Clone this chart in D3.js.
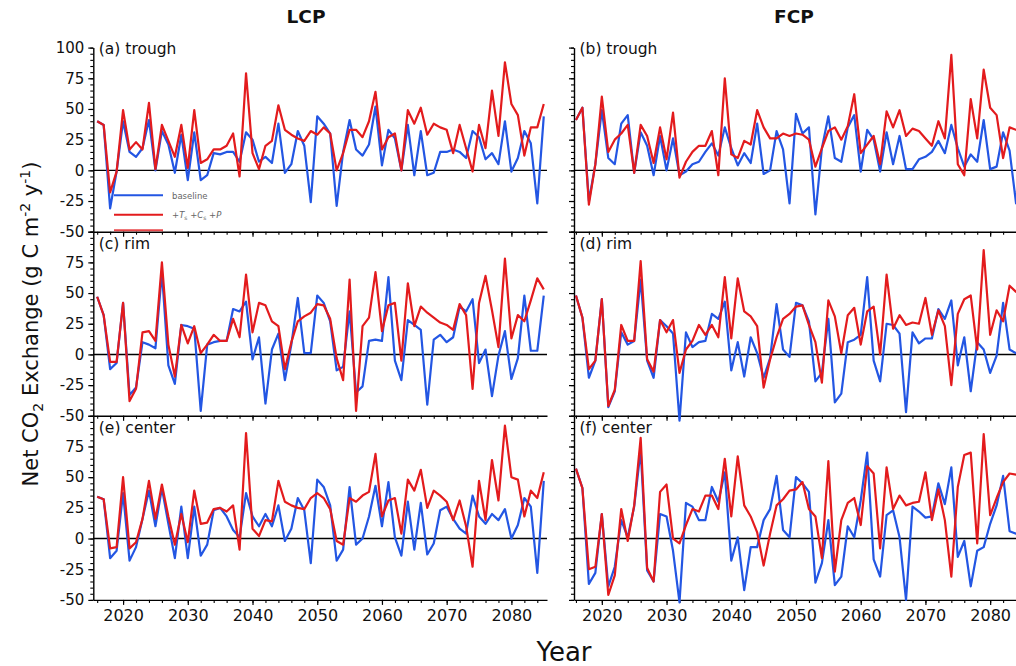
<!DOCTYPE html>
<html>
<head>
<meta charset="utf-8">
<script src="https://cdn.jsdelivr.net/npm/d3@7"></script>
<style>
  html, body { margin: 0; padding: 0; background: #fff; }
  svg { display: block; font-family: "DejaVu Sans", Verdana, sans-serif; }
</style>
</head>
<body>
<svg id="chart" width="1016" height="666"></svg>
<script>
// Years of simulated net CO2 exchange
const years = d3.range(2016, 2086);

// Column titles and panel captions
const columnTitles = ["LCP", "FCP"];
const panelLabels = [["(a) trough", "(b) trough"], ["(c) rim", "(d) rim"], ["(e) center", "(f) center"]];

// Axis ticks
const yMajorTicks = [-50, -25, 0, 25, 50, 75, 100];
const xMajorTicks = [2020, 2030, 2040, 2050, 2060, 2070, 2080];

// Net CO2 exchange, g C m-2 y-1 : baseline and +Ts +Cs +P runs
const troughLcpBase = [40, 37, -31, -1, 40, 15, 11, 18, 41, 0, 32, 21, -2, 29, -8, 31, -8, -4, 14, 13, 15, 15, 7, 31, 25, 7, 11, 6, 38, -2, 5, 32, 20, -26, 44, 38, 30, -29, 15, 41, 17, 12, 21, 52, 4, 33, 26, 0, 37, -4, 32, -4, -2, 15, 15, 17, 15, 10, 32, 27, 9, 14, 5, 40, -1, 10, 32, 22, -27, 44];
const troughLcpWarm = [40, 37, -18, -1, 49, 17, 23, 17, 55, 1, 37, 24, 11, 37, 2, 49, 6, 9, 17, 17, 20, 30, -5, 79, 14, 1, 20, 24, 53, 33, 29, 26, 24, 32, 29, 35, 30, 0, 14, 33, 33, 27, 40, 64, 17, 27, 30, 0, 49, 38, 51, 29, 38, 35, 33, 14, 37, 18, -1, 37, 18, 65, 28, 88, 54, 45, 12, 35, 35, 54];
const troughFcpBase = [41, 51, -25, 5, 49, 10, 5, 38, 45, -2, 31, 20, -4, 28, 0, 26, -4, -1, 5, 7, 15, 22, 12, 35, 18, 4, 14, 6, 38, -3, 0, 32, 17, -27, 46, 30, 35, -36, 18, 44, 10, 7, 35, 45, -1, 33, 25, -1, 31, 5, 28, 1, 1, 9, 11, 15, 24, 14, 37, 18, 3, 13, 7, 41, 1, 3, 31, 16, -27, 40];
const troughFcpWarm = [41, 51, -28, 5, 60, 15, 25, 30, 37, -2, 37, 28, 6, 35, 9, 47, -6, 7, 15, 20, 20, 32, -4, 75, 13, 10, 24, 21, 49, 35, 26, 26, 30, 28, 30, 29, 25, 3, 18, 32, 35, 25, 36, 62, 14, 21, 28, 5, 48, 35, 49, 28, 34, 32, 26, 20, 40, 26, 94, 5, -4, 58, 26, 82, 51, 45, 10, 35, 33, 32];
const rimLcpBase = [47, 32, -12, -7, 42, -33, -27, 10, 8, 5, 67, -9, -24, 24, 23, 21, -46, 8, 10, 11, 11, 37, 35, 43, -4, 14, -40, 4, 17, -21, 8, 46, 1, 1, 48, 42, 27, -13, -10, 35, -31, -26, 11, 12, 11, 63, -5, -21, 28, 24, 20, -41, 12, 16, 10, 14, 39, 35, 45, -7, 4, -34, -1, 19, -20, -3, 48, 3, 3, 48];
const rimLcpWarm = [47, 32, -6, -6, 42, -38, -28, 18, 19, 11, 75, 8, -18, 24, 9, 23, 1, 8, 16, 11, 11, 29, 14, 65, 18, 42, 40, 27, 23, -12, 10, 27, 31, 34, 41, 40, 29, -3, -21, 61, -46, 23, 30, 67, 19, 40, 42, -5, 58, 23, 39, 34, 30, 26, 24, 20, 41, 32, -28, 42, 64, 36, 6, 78, 13, 32, 27, 44, 62, 53];
const rimFcpBase = [48, 30, -19, -5, 45, -43, -30, 18, 8, 11, 61, -5, -19, 28, 23, 17, -54, 18, 6, 10, 11, 33, 29, 43, -13, 10, -18, 14, 1, -19, -3, 41, 4, -2, 42, 40, 27, -22, -15, 29, -39, -32, 10, 12, 16, 63, -5, -22, 25, 24, 17, -47, 18, 9, 13, 13, 37, 29, 44, -9, 14, -30, 10, 4, -15, -1, 42, 4, 1, 5];
const rimFcpWarm = [48, 30, -12, -5, 45, -42, -29, 24, 11, 11, 76, -4, -14, 28, 18, 28, -15, 4, 11, 24, 16, 24, 14, 63, 13, 62, 35, 31, 23, -27, -4, 14, 29, 33, 39, 40, 24, 10, -23, 44, 31, 1, 32, 38, 8, 35, 39, 0, 65, 21, 32, 24, 26, 25, 46, 16, 36, 23, -25, 33, 45, 48, 4, 85, 16, 36, 27, 56, 51, 48];
const centerLcpBase = [34, 32, -16, -10, 37, -18, -7, 16, 39, 10, 41, 12, -16, 26, -16, 26, -14, -5, 23, 25, 18, 7, 1, 37, 18, 10, 20, 10, 27, -2, 8, 33, 23, -20, 48, 42, 27, -18, -9, 42, -5, 0, 18, 43, 10, 46, 1, -14, 30, -9, 29, -13, -4, 23, 26, 16, 8, 4, 35, 18, 12, 20, 15, 24, 0, 11, 33, 26, -28, 47];
const centerLcpWarm = [34, 32, -8, -7, 50, -8, -3, 16, 47, 16, 44, 18, -5, 20, -3, 39, 12, 13, 24, 25, 22, 27, -9, 86, 8, 2, 15, 14, 47, 30, 27, 25, 24, 33, 37, 33, 24, -2, -5, 33, 30, 35, 38, 69, 18, 31, 33, 4, 48, 39, 56, 25, 39, 35, 30, 15, 31, 10, -23, 47, 15, 64, 31, 92, 50, 48, 18, 39, 33, 54];
const centerFcpBase = [57, 41, -37, -28, 20, -39, -23, 15, 1, 26, 72, -26, -35, 20, 18, -10, -52, 29, 26, 15, 15, 42, 30, 54, -18, 1, -42, -7, -7, 15, 24, 51, 7, 1, 50, 45, 38, -36, -20, 15, -38, -31, 10, 1, 31, 70, -17, -31, 19, 23, 1, -50, 26, 22, 17, 18, 45, 28, 58, -15, -2, -39, -10, -7, 12, 27, 51, 6, 4, 5];
const centerFcpWarm = [57, 41, -25, -23, 20, -46, -30, 24, -2, 27, 82, -24, -35, 38, 44, 0, -4, 11, 24, 22, 35, 35, 24, 65, 18, 67, 27, 18, 5, -22, 4, 27, 32, 39, 40, 46, 24, 18, -16, 63, -27, 15, 29, 33, 11, 59, 53, -8, 58, 24, 35, 27, 29, 30, 54, 15, 40, 15, -31, 42, 68, 70, -4, 85, 19, 33, 46, 53, 52, 52];

const baseColor = "#2356e3";
const warmColor = "#e31b1d";

// rows: trough, rim, center; columns: LCP, FCP
const panels = [
  [{ base: troughLcpBase, warm: troughLcpWarm }, { base: troughFcpBase, warm: troughFcpWarm }],
  [{ base: rimLcpBase, warm: rimLcpWarm }, { base: rimFcpBase, warm: rimFcpWarm }],
  [{ base: centerLcpBase, warm: centerLcpWarm }, { base: centerFcpBase, warm: centerFcpWarm }]
];

const svg = d3.select("#chart");
const colLeft = [93.3, 574];
const colDomainStart = [2015.4, 2015.7];
const panelW = 453.7;
const rowTop = [47.6, 231.7, 415.8];
const panelH = 184.1;

const minorY = d3.range(-50, 101, 5);
const minorX = d3.range(2016, 2086, 2);

panels.forEach((row, r) => {
  row.forEach((p, c) => {
    const x = d3.scaleLinear()
      .domain([colDomainStart[c], colDomainStart[c] + 70.1])
      .range([colLeft[c], colLeft[c] + panelW]);
    const y = d3.scaleLinear().domain([-50, 100]).range([rowTop[r] + panelH, rowTop[r]]);
    const g = svg.append("g");

    // zero reference line
    g.append("line")
      .attr("x1", x.range()[0]).attr("x2", x.range()[1])
      .attr("y1", y(0)).attr("y2", y(0))
      .attr("stroke", "#000").attr("stroke-width", 1.4);

    // y axis: minor then major ticks
    g.append("g").attr("transform", `translate(${colLeft[c]},0)`)
      .call(d3.axisLeft(y).tickValues(minorY).tickSize(3).tickFormat(""))
      .call(a => a.select(".domain").remove())
      .call(a => a.selectAll("line").attr("stroke-width", 1.1));
    const yMajor = g.append("g").attr("transform", `translate(${colLeft[c]},0)`)
      .call(d3.axisLeft(y).tickValues(yMajorTicks).tickSize(5).tickSizeOuter(0).tickPadding(4)
        .tickFormat(d => (c === 0 && (r === 0 || d !== 100)) ? d : ""));
    yMajor.select(".domain").attr("stroke-width", 1.4);
    yMajor.selectAll("line").attr("stroke-width", 1.2);
    yMajor.selectAll("text").attr("font-size", 15).attr("font-family", "DejaVu Sans").attr("fill", "#111");

    // x axis along the bottom of each panel
    g.append("g").attr("transform", `translate(0,${rowTop[r] + panelH})`)
      .call(d3.axisBottom(x).tickValues(minorX).tickSize(3).tickFormat(""))
      .call(a => a.select(".domain").remove())
      .call(a => a.selectAll("line").attr("stroke-width", 1.1));
    const xMajor = g.append("g").attr("transform", `translate(0,${rowTop[r] + panelH})`)
      .call(d3.axisBottom(x).tickValues(xMajorTicks).tickSize(5).tickSizeOuter(0).tickPadding(5)
        .tickFormat(d => r === 2 ? d : ""));
    xMajor.select(".domain").attr("stroke-width", 1.4);
    xMajor.selectAll("line").attr("stroke-width", 1.2);
    xMajor.selectAll("text").attr("font-size", 16).attr("font-family", "DejaVu Sans").attr("fill", "#111");

    // series lines
    const line = d3.line().x((d, i) => x(years[i])).y(d => y(d));
    g.append("path").datum(p.base).attr("d", line)
      .attr("fill", "none").attr("stroke", baseColor).attr("stroke-width", 2.2)
      .attr("stroke-linejoin", "round");
    g.append("path").datum(p.warm).attr("d", line)
      .attr("fill", "none").attr("stroke", warmColor).attr("stroke-width", 2.2)
      .attr("stroke-linejoin", "round");

    // panel caption
    g.append("text")
      .attr("x", colLeft[c] + 5.5).attr("y", rowTop[r] + 6.5 + (r === 0 ? 0 : 11))
      .attr("font-size", 15.5).attr("fill", "#111")
      .text(panelLabels[r][c]);
  });
});

// legend inside panel (a)
const legend = svg.append("g");
legend.append("line").attr("x1", 114).attr("x2", 163).attr("y1", 195.3).attr("y2", 195.3)
  .attr("stroke", baseColor).attr("stroke-width", 2);
legend.append("text").attr("x", 172).attr("y", 198.5).attr("font-size", 8.5).attr("fill", "#666").text("baseline");
legend.append("line").attr("x1", 114).attr("x2", 163).attr("y1", 214.7).attr("y2", 214.7)
  .attr("stroke", warmColor).attr("stroke-width", 2);
const lt = legend.append("text").attr("x", 172).attr("y", 217.5).attr("font-size", 8.5).attr("fill", "#666");
lt.append("tspan").text("+");
lt.append("tspan").attr("font-style", "italic").text("T");
lt.append("tspan").attr("font-size", 6).attr("dy", 2).text("s");
lt.append("tspan").attr("dy", -2).text(" +");
lt.append("tspan").attr("font-style", "italic").text("C");
lt.append("tspan").attr("font-size", 6).attr("dy", 2).text("s");
lt.append("tspan").attr("dy", -2).text(" +");
lt.append("tspan").attr("font-style", "italic").text("P");
legend.append("line").attr("x1", 114).attr("x2", 163).attr("y1", 230.2).attr("y2", 230.2)
  .attr("stroke", "#e8474a").attr("stroke-width", 2);

// column titles
svg.selectAll(".coltitle").data(columnTitles).enter().append("text")
  .attr("x", (d, i) => [306, 794][i]).attr("y", 23)
  .attr("text-anchor", "middle").attr("font-size", 18.5).attr("font-weight", "bold")
  .attr("fill", "#111").text(d => d);

// y axis title
const yt = svg.append("text")
  .attr("transform", "translate(38,324) rotate(-90)")
  .attr("text-anchor", "middle").attr("font-size", 21).attr("fill", "#111");
yt.append("tspan").text("Net CO");
yt.append("tspan").attr("font-size", 14).attr("dy", 5).text("2");
yt.append("tspan").attr("dy", -5).text(" Exchange (g C m");
yt.append("tspan").attr("font-size", 14).attr("dy", -8).text("-2");
yt.append("tspan").attr("dy", 8).text(" y");
yt.append("tspan").attr("font-size", 14).attr("dy", -8).text("-1");
yt.append("tspan").attr("dy", 8).text(")");

// x axis title
svg.append("text").attr("x", 564).attr("y", 661)
  .attr("text-anchor", "middle").attr("font-size", 26).attr("fill", "#111").text("Year");
</script>
</body>
</html>
